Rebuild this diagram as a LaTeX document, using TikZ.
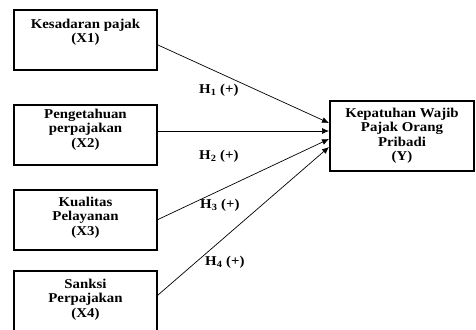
\documentclass[tikz,border=0pt]{standalone}
\usepackage{fontspec}
\setmainfont[FakeStretch=1.1]{Liberation Serif}
\usetikzlibrary{arrows.meta,positioning}
\tikzset{
  varbox/.style={rectangle, draw=black, line width=2pt, inner sep=2pt,
                 minimum width=143pt, minimum height=60pt,
                 font=\fontsize{13.5}{14.5}\selectfont\bfseries},
  hyplbl/.style={font=\fontsize{13.5}{14.5}\selectfont\bfseries, inner sep=0pt, anchor=base west},
  hypflow/.style={-{Latex[length=7pt,width=6pt]}, draw=black, line width=0.7pt},
}
% text sits at the top of each box
\newcommand{\boxtxt}[3][4pt]{\parbox[c][#2][t]{138pt}{\centering\vspace*{#1}\strut #3}}

\begin{document}
\begin{tikzpicture}[x=1pt,y=-1pt]
\useasboundingbox (0,0) rectangle (476,329);
% independent variables
\node[varbox] (x1) at (85.5,40) {\boxtxt[6pt]{56pt}{Kesadaran pajak\\(X1)}};
\node[varbox] (x2) at (85.5,135) {\boxtxt[1pt]{56pt}{Pengetahuan\\perpajakan\\(X2)}};
\node[varbox] (x3) at (85.5,219.5) {\boxtxt[4.5pt]{56pt}{Kualitas\\Pelayanan\\(X3)}};
\node[varbox, minimum height=62pt] (x4) at (85.5,302) {\boxtxt[5pt]{58pt}{Sanksi\\Perpajakan\\(X4)}};
% dependent variable
\node[varbox, minimum width=144pt, minimum height=70pt] (y) at (402,136)
 {\boxtxt[4pt]{66pt}{Kepatuhan Wajib\\Pajak Orang\\Pribadi\\(Y)}};

\draw[hypflow] ([yshift=-5pt]x1.east) -- ([yshift=13pt]y.west);
\draw[hypflow] ([yshift=4pt]x2.east) -- ([yshift=5pt]y.west);
\draw[hypflow] (x3.east) -- ([yshift=-3pt]y.west);
\draw[hypflow] ([yshift=7pt]x4.east) -- ([yshift=-11pt]y.west);

\node[hyplbl] (h1) at (199,93) {H\textsubscript{1} (+)};
\node[hyplbl] (h2) at (199,159) {H\textsubscript{2} (+)};
\node[hyplbl] (h3) at (200,208) {H\textsubscript{3} (+)};
\node[hyplbl] (h4) at (205,265) {H\textsubscript{4} (+)};
\end{tikzpicture}
\end{document}
